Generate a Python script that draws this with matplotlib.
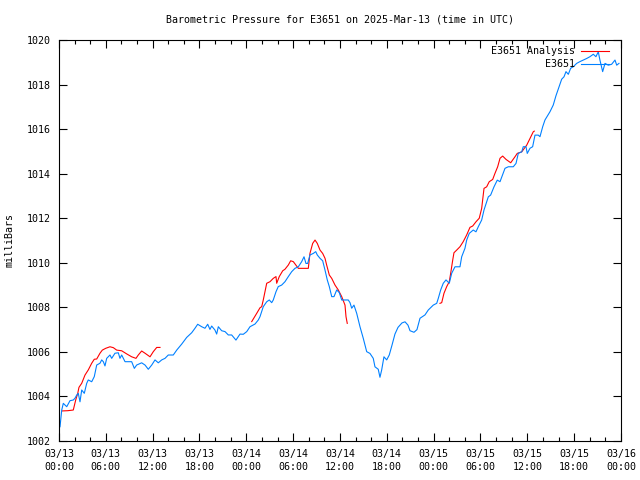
#!/usr/bin/env python3

import numpy as np
import pandas as pd

import matplotlib
matplotlib.use("Agg")
import matplotlib.pyplot as plt
import matplotlib.dates as mdates

# ---- data (hours since 2025-03-13 00:00 UTC, pressure in mbar)
start = pd.Timestamp("2025-03-13 00:00")

obs_hours = [
  0.13, 0.35, 0.55, 0.99, 1.41, 1.83, 2.05, 2.27, 2.47, 2.69, 2.91, 3.24, 3.55, 3.75,
  4.19, 4.52, 4.83, 5.25, 5.47, 5.68, 5.89, 6.11, 6.53, 6.75, 7.17, 7.60, 7.81, 8.03,
  8.46, 9.31, 9.65, 9.95, 10.59, 11.02, 11.44, 11.88, 12.30, 12.72, 13.16, 13.58,
  14.00, 14.64, 15.08, 15.72, 16.36, 17.00, 17.42, 17.77, 18.28, 18.70, 19.05, 19.34,
  19.56, 19.98, 20.20, 20.41, 20.84, 21.27, 21.69, 22.12, 22.67, 23.19, 23.61, 24.05,
  24.47, 25.11, 25.53, 25.75, 26.17, 26.61, 26.94, 27.25, 27.45, 27.80, 28.09, 28.53,
  28.95, 29.38, 29.81, 30.23, 30.66, 31.09, 31.39, 31.64, 31.86, 32.15, 32.58, 32.89,
  33.09, 33.44, 33.78, 34.08, 34.37, 34.63, 34.94, 35.23, 35.58, 35.91, 36.22, 36.64,
  37.06, 37.28, 37.50, 37.79, 38.14, 38.56, 38.98, 39.42, 39.84, 40.26, 40.48, 40.90,
  41.12, 41.34, 41.63, 41.98, 42.31, 42.66, 43.04, 43.43, 43.94, 44.33, 44.71, 44.97,
  45.48, 45.86, 46.25, 46.89, 47.31, 47.95, 48.39, 48.59, 48.90, 49.23, 49.58, 50.00,
  50.31, 50.73, 51.37, 51.59, 52.01, 52.23, 52.56, 53.07, 53.42, 53.72, 54.15, 54.45,
  55.00, 55.30, 55.73, 56.15, 56.50, 57.14, 57.56, 58.20, 58.55, 58.84, 59.28, 59.48,
  59.83, 59.99, 60.34, 60.68, 60.98, 61.40, 61.62, 61.97, 62.26, 62.90, 63.32, 63.67,
  63.97, 64.40, 64.70, 64.95, 65.25, 65.55, 65.89, 66.32, 66.74, 67.17, 67.60, 68.02,
  68.45, 68.79, 69.09, 69.30, 69.65, 69.95, 70.37, 70.80, 71.23, 71.45, 71.74,
]
obs_mbar = [
  1002.64, 1003.39, 1003.69, 1003.54, 1003.81, 1003.84, 1003.92, 1004.06, 1004.14, 1003.76,
  1004.29, 1004.14, 1004.59, 1004.74, 1004.66, 1004.89, 1005.41, 1005.49, 1005.64, 1005.56,
  1005.37, 1005.71, 1005.86, 1005.71, 1005.94, 1005.96, 1005.71, 1005.86, 1005.56, 1005.56,
  1005.26, 1005.41, 1005.51, 1005.41, 1005.22, 1005.41, 1005.64, 1005.51, 1005.64, 1005.71,
  1005.86, 1005.86, 1006.08, 1006.35, 1006.65, 1006.86, 1007.06, 1007.24, 1007.13, 1007.06,
  1007.24, 1007.01, 1007.16, 1006.98, 1006.80, 1007.13, 1006.95, 1006.91, 1006.76, 1006.76,
  1006.53, 1006.80, 1006.79, 1006.91, 1007.13, 1007.25, 1007.43, 1007.58, 1008.03, 1008.25,
  1008.33, 1008.21, 1008.33, 1008.70, 1008.93, 1009.00, 1009.15, 1009.38, 1009.60, 1009.75,
  1009.82, 1010.05, 1010.27, 1009.97, 1009.97, 1010.35, 1010.42, 1010.50, 1010.35, 1010.20,
  1010.09, 1009.67, 1009.23, 1008.93, 1008.48, 1008.48, 1008.78, 1008.66, 1008.33, 1008.33,
  1008.33, 1008.21, 1007.96, 1008.10, 1007.73, 1007.13, 1006.61, 1006.01, 1005.93, 1005.71,
  1005.33, 1005.22, 1004.86, 1005.19, 1005.78, 1005.64, 1005.86, 1006.30, 1006.80, 1007.10,
  1007.30, 1007.35, 1007.20, 1006.95, 1006.88, 1007.00, 1007.51, 1007.66, 1007.88, 1008.10,
  1008.18, 1008.40, 1008.78, 1009.08, 1009.23, 1009.08, 1009.53, 1009.82, 1009.82, 1010.27,
  1010.65, 1011.02, 1011.32, 1011.47, 1011.39, 1011.62, 1011.92, 1012.37, 1012.96, 1013.04,
  1013.41, 1013.71, 1013.64, 1014.24, 1014.31, 1014.31, 1014.46, 1014.91, 1014.98, 1015.21,
  1015.21, 1014.91, 1015.14, 1015.21, 1015.73, 1015.73, 1015.66, 1016.11, 1016.41, 1016.78,
  1017.08, 1017.50, 1017.80, 1018.24, 1018.35, 1018.58, 1018.46, 1018.73, 1018.80, 1018.95,
  1019.03, 1019.10, 1019.17, 1019.25, 1019.36, 1019.25, 1019.47, 1019.10, 1018.58, 1018.95,
  1018.87, 1018.91, 1019.10, 1018.87, 1018.95,
]

# analysis, three pieces separated by gaps (None)
ana_hours = [
  0.42, 1.11, 1.83, 2.14, 2.40, 2.56, 2.91, 3.33, 3.75, 4.19, 4.52, 4.83, 5.25, 5.55,
  5.98, 6.53, 6.96, 7.39, 8.03, 8.67, 9.31, 9.86, 10.16, 10.59, 11.02, 11.66, 12.08,
  12.52, 12.94,
  13.5,
  24.69, 25.33, 25.75, 25.97, 26.17, 26.61, 27.03, 27.45, 27.80, 27.89, 28.22, 28.66,
  28.95, 29.38, 29.68, 30.02, 30.66, 31.30, 31.94, 32.15, 32.50, 32.80, 33.09, 33.44,
  33.78, 34.08, 34.29, 34.63, 34.94, 35.36, 35.78, 36.22, 36.64, 36.77, 36.93,
  37.5,
  48.81, 49.03, 49.32, 49.67, 50.00, 50.18, 50.44, 50.60, 50.95, 51.37, 51.79, 52.23,
  52.65, 53.00, 53.42, 53.84, 54.15, 54.45, 54.79, 55.12, 55.56, 55.85, 56.20, 56.50,
  56.84, 57.27, 57.87, 58.42, 58.71, 59.28, 59.92, 60.34, 60.76, 60.89,
]
ana_mbar = [
  1003.35, 1003.36, 1003.39, 1003.84, 1004.14, 1004.41, 1004.59, 1004.96, 1005.19, 1005.49,
  1005.67, 1005.68, 1005.94, 1006.08, 1006.16, 1006.23, 1006.19, 1006.08, 1006.05, 1005.91,
  1005.78, 1005.71, 1005.86, 1006.04, 1005.94, 1005.78, 1006.01, 1006.20, 1006.20,
  None,
  1007.36, 1007.73, 1007.98, 1008.03, 1008.33, 1009.08, 1009.15, 1009.30, 1009.38, 1009.08,
  1009.38, 1009.64, 1009.71, 1009.90, 1010.09, 1010.05, 1009.75, 1009.75, 1009.75, 1010.42,
  1010.87, 1011.02, 1010.87, 1010.57, 1010.42, 1010.20, 1009.90, 1009.45, 1009.30, 1009.00,
  1008.78, 1008.48, 1008.10, 1007.58, 1007.28,
  None,
  1008.18, 1008.21, 1008.63, 1008.93, 1009.15, 1009.53, 1010.12, 1010.45, 1010.57, 1010.72,
  1010.95, 1011.25, 1011.59, 1011.65, 1011.84, 1012.00, 1012.44, 1013.34, 1013.41, 1013.64,
  1013.74, 1014.01, 1014.31, 1014.69, 1014.79, 1014.64, 1014.49, 1014.76, 1014.91, 1014.98,
  1015.28, 1015.58, 1015.88, 1015.91,
]

station = "E3651"


def to_time(hours):
  return start + pd.to_timedelta(hours, unit="h")


def main():
  plt.rcParams['font.family'] = ['DejaVu Sans Mono']
  fs = 7.2

  fig = plt.figure(figsize=(6.4, 4.8), dpi=100)
  ax = fig.add_axes([59/640, 39/480, 562/640, 401/480])

  ana = np.array([np.nan if v is None else v for v in ana_mbar])
  ax.plot(to_time(ana_hours), ana, color='#ff0000', lw=0.8,
          label=station + " Analysis")
  ax.plot(to_time(obs_hours), obs_mbar, color='#0080ff', lw=0.8, label=station)

  ax.set_xlim(start, start + pd.Timedelta(hours=72))
  ax.set_ylim(1002, 1020)
  ax.set_yticks(np.arange(1002, 1021, 2))

  ax.xaxis.set_major_locator(mdates.HourLocator(byhour=range(0, 24, 6)))
  ax.xaxis.set_minor_locator(mdates.HourLocator(interval=2))
  ax.xaxis.set_major_formatter(mdates.DateFormatter("%m/%d\n%H:%M"))

  ax.tick_params(which='both', direction='in', top=True, right=True,
                 labelsize=fs, width=0.8)
  ax.tick_params(which='major', length=6)
  ax.tick_params(which='minor', length=3)
  ax.tick_params(axis='x', pad=6)
  ax.tick_params(axis='y', pad=6)
  for lab in ax.get_xticklabels():
    lab.set_linespacing(1.3)
  for sp in ax.spines.values():
    sp.set_linewidth(0.8)

  fig.text(340/640, 1 - 19/480, "Barometric Pressure for %s on 2025-Mar-13 (time in UTC)" % station,
           ha='center', va='center', fontsize=fs)
  fig.text(10/640, 1 - 240/480, "milliBars", rotation=90,
           ha='center', va='center', fontsize=fs)

  ax.legend(loc='upper right', bbox_to_anchor=(0.979, 0.985), frameon=False,
            markerfirst=False, fontsize=fs, handlelength=2.8, handletextpad=0.6,
            borderpad=0, borderaxespad=0, labelspacing=0.3)

  fig.savefig("out.png", dpi=100)

if __name__ == '__main__':
  main()
